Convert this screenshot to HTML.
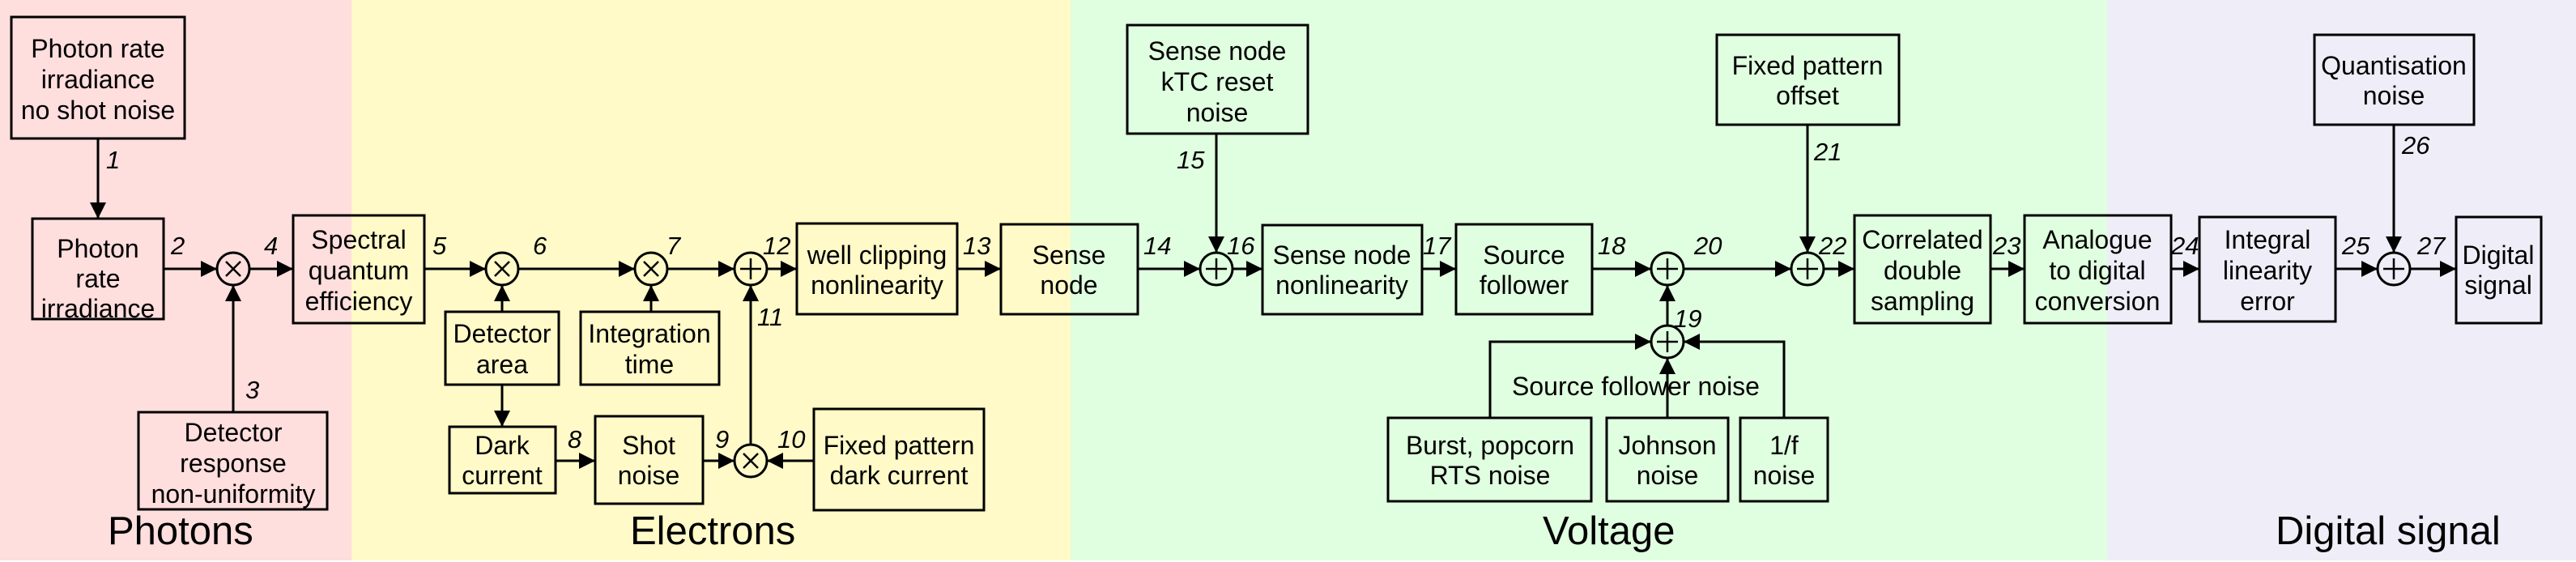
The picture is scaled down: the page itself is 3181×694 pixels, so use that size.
<!DOCTYPE html>
<html><head><meta charset="utf-8"><style>
html,body{margin:0;padding:0;background:#fff;}
svg{display:block;}
text{font-family:"Liberation Sans",Arial,sans-serif;fill:#000;}
.b{font-size:32px;text-anchor:middle;}
.n{font-size:31px;font-style:italic;}
.t{font-size:49px;}
rect.bx{fill:none;stroke:#000;stroke-width:3;}
line,polyline{stroke:#000;stroke-width:3;fill:none;}
circle{fill:none;stroke:#000;stroke-width:3;}
</style></head><body>
<svg width="3181" height="694" viewBox="0 0 3181 694" xmlns="http://www.w3.org/2000/svg">
<defs>
<marker id="a" viewBox="0 0 20 20" refX="20" refY="10" markerWidth="20" markerHeight="20" markerUnits="userSpaceOnUse" orient="auto">
<path d="M0,0 L20,10 L0,20 z" fill="#000"/>
</marker>
<g id="plus"><line x1="-13" y1="0" x2="13" y2="0" style="stroke-width:2.5"/><line x1="0" y1="-13" x2="0" y2="13" style="stroke-width:2.5"/></g>
<g id="times"><line x1="-9" y1="-9" x2="9" y2="9" style="stroke-width:2.5"/><line x1="-9" y1="9" x2="9" y2="-9" style="stroke-width:2.5"/></g>
</defs>
<rect x="0" y="0" width="434" height="692" fill="#ffdede"/>
<rect x="434" y="0" width="888" height="692" fill="#fffac8"/>
<rect x="1322" y="0" width="1280" height="692" fill="#e0ffe0"/>
<rect x="2602" y="0" width="579" height="692" fill="#efedf7"/>

<!-- boxes -->
<rect class="bx" x="14" y="21" width="214" height="150"/>
<text class="b" x="121" y="71">Photon rate</text><text class="b" x="121" y="109">irradiance</text><text class="b" x="121" y="147">no shot noise</text>
<rect class="bx" x="40" y="270" width="162" height="124"/>
<text class="b" x="121" y="318">Photon</text><text class="b" x="121" y="355">rate</text><text class="b" x="121" y="392">irradiance</text>
<rect class="bx" x="171" y="509" width="233" height="120"/>
<text class="b" x="288" y="545">Detector</text><text class="b" x="288" y="583">response</text><text class="b" x="288" y="621">non-uniformity</text>
<rect class="bx" x="362" y="266" width="162" height="133"/>
<text class="b" x="443" y="307">Spectral</text><text class="b" x="443" y="345">quantum</text><text class="b" x="443" y="383">efficiency</text>
<rect class="bx" x="550" y="385" width="140" height="90"/>
<text class="b" x="620" y="423">Detector</text><text class="b" x="620" y="461">area</text>
<rect class="bx" x="717" y="385" width="171" height="90"/>
<text class="b" x="802" y="423">Integration</text><text class="b" x="802" y="461">time</text>
<rect class="bx" x="555" y="527" width="131" height="82"/>
<text class="b" x="620" y="561">Dark</text><text class="b" x="620" y="598">current</text>
<rect class="bx" x="735" y="514" width="133" height="108"/>
<text class="b" x="801" y="561">Shot</text><text class="b" x="801" y="598">noise</text>
<rect class="bx" x="1005" y="505" width="210" height="125"/>
<text class="b" x="1110" y="561">Fixed pattern</text><text class="b" x="1110" y="598">dark current</text>
<rect class="bx" x="984" y="276" width="198" height="112"/>
<text class="b" x="1083" y="326">well clipping</text><text class="b" x="1083" y="363">nonlinearity</text>
<rect class="bx" x="1236" y="277" width="169" height="111"/>
<text class="b" x="1320" y="326">Sense</text><text class="b" x="1320" y="363">node</text>
<rect class="bx" x="1392" y="31" width="223" height="134"/>
<text class="b" x="1503" y="74">Sense node</text><text class="b" x="1503" y="112">kTC reset</text><text class="b" x="1503" y="150">noise</text>
<rect class="bx" x="1559" y="278" width="197" height="110"/>
<text class="b" x="1657" y="326">Sense node</text><text class="b" x="1657" y="363">nonlinearity</text>
<rect class="bx" x="1798" y="277" width="168" height="111"/>
<text class="b" x="1882" y="326">Source</text><text class="b" x="1882" y="363">follower</text>
<rect class="bx" x="1714" y="516" width="251" height="103"/>
<text class="b" x="1840" y="561">Burst, popcorn</text><text class="b" x="1840" y="598">RTS noise</text>
<rect class="bx" x="1984" y="516" width="150" height="103"/>
<text class="b" x="2059" y="561">Johnson</text><text class="b" x="2059" y="598">noise</text>
<rect class="bx" x="2149" y="516" width="108" height="103"/>
<text class="b" x="2203" y="561">1/f</text><text class="b" x="2203" y="598">noise</text>
<rect class="bx" x="2120" y="43" width="225" height="111"/>
<text class="b" x="2232" y="92">Fixed pattern</text><text class="b" x="2232" y="129">offset</text>
<rect class="bx" x="2290" y="266" width="168" height="133"/>
<text class="b" x="2374" y="307">Correlated</text><text class="b" x="2374" y="345">double</text><text class="b" x="2374" y="383">sampling</text>
<rect class="bx" x="2500" y="266" width="181" height="133"/>
<text class="b" x="2590" y="307">Analogue</text><text class="b" x="2590" y="345">to digital</text><text class="b" x="2590" y="383">conversion</text>
<rect class="bx" x="2716" y="268" width="168" height="129"/>
<text class="b" x="2800" y="307">Integral</text><text class="b" x="2800" y="345">linearity</text><text class="b" x="2800" y="383">error</text>
<rect class="bx" x="2858" y="43" width="197" height="111"/>
<text class="b" x="2956" y="92">Quantisation</text><text class="b" x="2956" y="129">noise</text>
<rect class="bx" x="3033" y="268" width="105" height="131"/>
<text class="b" x="3085" y="326">Digital</text><text class="b" x="3085" y="363">signal</text>

<!-- circles -->
<circle cx="288" cy="332" r="20"/><use href="#times" x="288" y="332"/>
<circle cx="620" cy="332" r="20"/><use href="#times" x="620" y="332"/>
<circle cx="804" cy="332" r="20"/><use href="#times" x="804" y="332"/>
<circle cx="927" cy="332" r="20"/><use href="#plus" x="927" y="332"/>
<circle cx="927" cy="569" r="20"/><use href="#times" x="927" y="569"/>
<circle cx="1502" cy="332" r="20"/><use href="#plus" x="1502" y="332"/>
<circle cx="2059" cy="332" r="20"/><use href="#plus" x="2059" y="332"/>
<circle cx="2059" cy="422" r="20"/><use href="#plus" x="2059" y="422"/>
<circle cx="2232" cy="332" r="20"/><use href="#plus" x="2232" y="332"/>
<circle cx="2956" cy="332" r="20"/><use href="#plus" x="2956" y="332"/>

<!-- connectors -->
<g marker-end="url(#a)">
<line x1="121" y1="171" x2="121" y2="270"/>
<line x1="202" y1="332" x2="268" y2="332"/>
<line x1="288" y1="509" x2="288" y2="352"/>
<line x1="308" y1="332" x2="362" y2="332"/>
<line x1="524" y1="332" x2="600" y2="332"/>
<line x1="640" y1="332" x2="784" y2="332"/>
<line x1="824" y1="332" x2="907" y2="332"/>
<line x1="947" y1="332" x2="984" y2="332"/>
<line x1="620" y1="385" x2="620" y2="352"/>
<line x1="804" y1="385" x2="804" y2="352"/>
<line x1="620" y1="475" x2="620" y2="527"/>
<line x1="686" y1="569" x2="735" y2="569"/>
<line x1="868" y1="569" x2="907" y2="569"/>
<line x1="1005" y1="569" x2="947" y2="569"/>
<line x1="927" y1="549" x2="927" y2="352"/>
<line x1="1182" y1="332" x2="1236" y2="332"/>
<line x1="1405" y1="332" x2="1482" y2="332"/>
<line x1="1502" y1="165" x2="1502" y2="312"/>
<line x1="1522" y1="332" x2="1559" y2="332"/>
<line x1="1756" y1="332" x2="1798" y2="332"/>
<line x1="1966" y1="332" x2="2039" y2="332"/>
<line x1="2059" y1="402" x2="2059" y2="352"/>
<polyline points="1840,516 1840,422 2039,422"/>
<line x1="2059" y1="516" x2="2059" y2="442"/>
<polyline points="2203,516 2203,422 2079,422"/>
<line x1="2079" y1="332" x2="2212" y2="332"/>
<line x1="2232" y1="154" x2="2232" y2="312"/>
<line x1="2252" y1="332" x2="2290" y2="332"/>
<line x1="2458" y1="332" x2="2500" y2="332"/>
<line x1="2681" y1="332" x2="2716" y2="332"/>
<line x1="2884" y1="332" x2="2936" y2="332"/>
<line x1="2956" y1="154" x2="2956" y2="312"/>
<line x1="2976" y1="332" x2="3033" y2="332"/>
</g>
<text class="b" x="2020" y="488">Source follower noise</text>

<!-- numbers -->
<text class="n" x="131" y="208">1</text>
<text class="n" x="211" y="314">2</text>
<text class="n" x="303" y="492">3</text>
<text class="n" x="326" y="314">4</text>
<text class="n" x="534" y="314">5</text>
<text class="n" x="658" y="314">6</text>
<text class="n" x="823" y="314">7</text>
<text class="n" x="701" y="553">8</text>
<text class="n" x="883" y="553">9</text>
<text class="n" x="960" y="553">10</text>
<text class="n" x="935" y="402">11</text>
<text class="n" x="942" y="314">12</text>
<text class="n" x="1189" y="314">13</text>
<text class="n" x="1412" y="314">14</text>
<text class="n" x="1453" y="208">15</text>
<text class="n" x="1515" y="314">16</text>
<text class="n" x="1757" y="314">17</text>
<text class="n" x="1973" y="314">18</text>
<text class="n" x="2067" y="404">19</text>
<text class="n" x="2092" y="314">20</text>
<text class="n" x="2240" y="198">21</text>
<text class="n" x="2246" y="314">22</text>
<text class="n" x="2461" y="314">23</text>
<text class="n" x="2681" y="314">24</text>
<text class="n" x="2892" y="314">25</text>
<text class="n" x="2966" y="190">26</text>
<text class="n" x="2985" y="314">27</text>

<!-- titles -->
<text class="t" x="133" y="672">Photons</text>
<text class="t" x="778" y="672">Electrons</text>
<text class="t" x="1905" y="672">Voltage</text>
<text class="t" x="2810" y="672">Digital signal</text>
</svg>
</body></html>
